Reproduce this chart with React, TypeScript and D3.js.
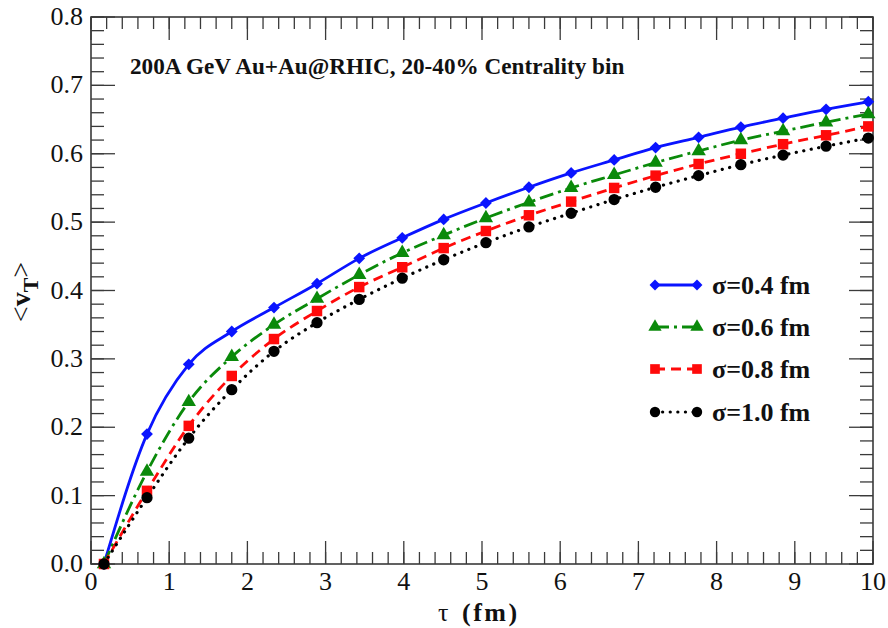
import React from "react";
import * as d3 from "d3";

// Proper time (fm) at which <v_T> is sampled
const tau = [0.166, 0.716, 1.25, 1.8, 2.34, 2.89, 3.43, 3.98, 4.51, 5.05, 5.6, 6.14, 6.69, 7.22, 7.77, 8.31, 8.85, 9.4, 9.94];

// Mean transverse velocity for each smearing width sigma
const vSigma04 = [0, 0.19, 0.292, 0.34, 0.375, 0.41, 0.447, 0.477, 0.504, 0.528, 0.551, 0.572, 0.591, 0.609, 0.624, 0.639, 0.652, 0.665, 0.676];
const vSigma06 = [0, 0.135, 0.237, 0.303, 0.35, 0.388, 0.423, 0.455, 0.481, 0.506, 0.529, 0.55, 0.569, 0.587, 0.604, 0.62, 0.633, 0.646, 0.658];
const vSigma08 = [0, 0.107, 0.202, 0.275, 0.329, 0.37, 0.405, 0.434, 0.462, 0.487, 0.51, 0.53, 0.55, 0.568, 0.585, 0.6, 0.614, 0.627, 0.64];
const vSigma10 = [0, 0.097, 0.184, 0.255, 0.311, 0.353, 0.387, 0.418, 0.445, 0.47, 0.493, 0.513, 0.533, 0.551, 0.568, 0.584, 0.598, 0.611, 0.623];

const legendLabels = ["σ=0.4 fm", "σ=0.6 fm", "σ=0.8 fm", "σ=1.0 fm"];
const xTickLabels = ["0", "1", "2", "3", "4", "5", "6", "7", "8", "9", "10"];
const yTickLabels = ["0.0", "0.1", "0.2", "0.3", "0.4", "0.5", "0.6", "0.7", "0.8"];

const W = 888;
const H = 628;
const L = 91, R = 873, T = 17, B = 564;
const serif = "Liberation Serif, Times New Roman, serif";
const axisColor = "#3a3a3a";

type SeriesStyle = {
  values: number[];
  color: string;
  dash: string;
  cap: "round" | "butt";
  symbol: d3.SymbolType;
  size: number;
  rotate: number;
};

const series: SeriesStyle[] = [
  { values: vSigma04, color: "#0a14ff", dash: "", cap: "butt", symbol: d3.symbolSquare, size: 70, rotate: 45 },
  { values: vSigma06, color: "#0a8a0a", dash: "14 5 3 5", cap: "butt", symbol: d3.symbolTriangle, size: 90, rotate: 0 },
  { values: vSigma08, color: "#ff0a0a", dash: "10 6", cap: "butt", symbol: d3.symbolSquare, size: 110, rotate: 0 },
  { values: vSigma10, color: "#000000", dash: "0.1 7.5", cap: "round", symbol: d3.symbolCircle, size: 100, rotate: 0 },
];

const txt: React.CSSProperties = { fontFamily: serif };

export default function App() {
  const x = d3.scaleLinear().domain([0, 10]).range([L, R]);
  const y = d3.scaleLinear().domain([0, 0.8]).range([B, T]);

  const xMinor = d3.range(0, 10.001, 0.2);
  const yMinor = d3.range(0, 0.8001, 0.02);
  const xMajor = d3.range(0, 11, 1);
  const yMajor = d3.range(0, 0.81, 0.1);

  const line = d3
    .line<[number, number]>()
    .x((d) => x(d[0]))
    .y((d) => y(d[1]))
    .curve(d3.curveMonotoneX);

  const legendY = [285, 327, 369, 412];
  const lx0 = 655, lx1 = 697;

  return (
    <svg width={W} height={H} style={{ position: "absolute", left: 0, top: 0, background: "#fff" }}>
      <rect x={0} y={0} width={W} height={H} fill="#fff" />

      {/* minor ticks on all four sides, pointing inward */}
      <g stroke={axisColor} strokeWidth={1.3}>
        {xMinor.map((v, i) => (
          <g key={"xm" + i}>
            <line x1={x(v)} x2={x(v)} y1={B} y2={B - 12} />
            <line x1={x(v)} x2={x(v)} y1={T} y2={T + 12} />
          </g>
        ))}
        {yMinor.map((v, i) => (
          <g key={"ym" + i}>
            <line x1={L} x2={L + 13} y1={y(v)} y2={y(v)} />
            <line x1={R} x2={R - 13} y1={y(v)} y2={y(v)} />
          </g>
        ))}
        {xMajor.map((v, i) => (
          <g key={"xM" + i}>
            <line x1={x(v)} x2={x(v)} y1={B} y2={B - 23} />
            <line x1={x(v)} x2={x(v)} y1={T} y2={T + 23} />
          </g>
        ))}
        {yMajor.map((v, i) => (
          <g key={"yM" + i}>
            <line x1={L} x2={L + 24} y1={y(v)} y2={y(v)} />
            <line x1={R} x2={R - 24} y1={y(v)} y2={y(v)} />
          </g>
        ))}
      </g>
      <rect x={L} y={T} width={R - L} height={B - T} fill="none" stroke={axisColor} strokeWidth={1.6} />

      {/* tick labels */}
      <g fontSize={26} fill="#111">
        {xMajor.map((v, i) => (
          <text key={"xl" + i} x={x(v)} y={590} textAnchor="middle" style={txt}>
            {xTickLabels[i]}
          </text>
        ))}
        {yMajor.map((v, i) => (
          <text key={"yl" + i} x={83} y={y(v) + 8} textAnchor="end" style={txt}>
            {yTickLabels[i]}
          </text>
        ))}
      </g>

      {/* curves */}
      {series.map((s, si) => (
        <path
          key={"c" + si}
          d={line(tau.map((t, i) => [t, s.values[i]] as [number, number])) || ""}
          fill="none"
          stroke={s.color}
          strokeWidth={s.cap === "round" ? 3.2 : 2.8}
          strokeDasharray={s.dash || undefined}
          strokeLinecap={s.cap}
        />
      ))}

      {/* markers */}
      {series.map((s, si) => {
        const sym = d3.symbol().type(s.symbol).size(s.size)() || "";
        return (
          <g key={"m" + si} fill={s.color}>
            {tau.map((t, i) => (
              <path key={i} d={sym} transform={`translate(${x(t)},${y(s.values[i])}) rotate(${s.rotate})`} />
            ))}
          </g>
        );
      })}

      {/* title */}
      <text x={130} y={74} fontSize={23.2} fontWeight="bold" fill="#111" style={txt}>
        200A GeV Au+Au@RHIC, 20-40% Centrality bin
      </text>

      {/* legend */}
      {series.map((s, si) => {
        const sym = d3.symbol().type(s.symbol).size(s.size * 0.85)() || "";
        const ly = legendY[si];
        return (
          <g key={"lg" + si}>
            <line
              x1={lx0}
              x2={lx1}
              y1={ly}
              y2={ly}
              stroke={s.color}
              strokeWidth={s.cap === "round" ? 3.2 : 2.8}
              strokeDasharray={s.dash || undefined}
              strokeLinecap={s.cap}
            />
            <path d={sym} fill={s.color} transform={`translate(${lx0},${ly}) rotate(${s.rotate})`} />
            <path d={sym} fill={s.color} transform={`translate(${lx1},${ly}) rotate(${s.rotate})`} />
            <text x={712} y={ly + 9} fontSize={26} fontWeight="bold" fill="#111" style={txt}>
              {legendLabels[si]}
            </text>
          </g>
        );
      })}

      {/* axis titles */}
      <text x={438} y={621} fontSize={26} fill="#111" style={txt}>
        τ
      </text>
      <text x={462} y={621} fontSize={26} fontWeight="bold" letterSpacing={2.5} fill="#111" style={txt}>
        (fm)
      </text>
      <text transform="translate(30,292) rotate(-90)" fontSize={28} textAnchor="middle" fill="#111" style={txt}>
        <tspan>&lt;</tspan>
        <tspan fontWeight="bold">v</tspan>
        <tspan fontWeight="bold" fontSize={22} dy={8}>T</tspan>
        <tspan dy={-8}>&gt;</tspan>
      </text>
    </svg>
  );
}
